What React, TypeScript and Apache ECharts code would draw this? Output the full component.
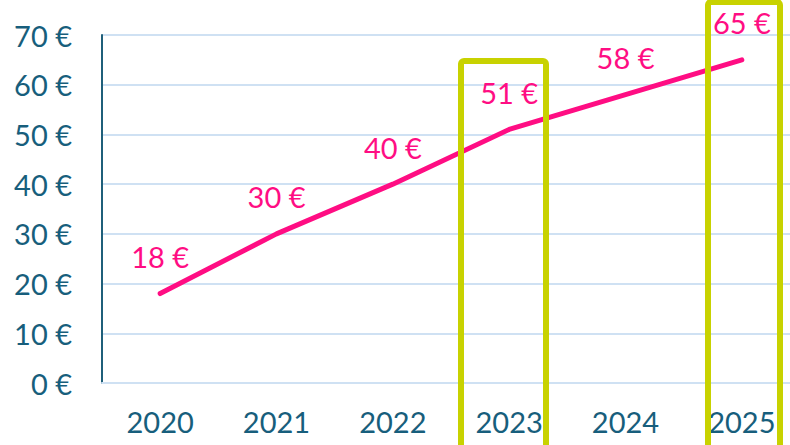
import React, { useEffect, useRef } from "react";
import * as echarts from "echarts";

const years = ["2020", "2021", "2022", "2023", "2024", "2025"];
const prices = [18, 30, 40, 51, 58, 65];
const yTicks = [0, 10, 20, 30, 40, 50, 60, 70];

export default function App() {
  const ref = useRef<HTMLDivElement>(null);
  useEffect(() => {
    document.body.style.margin = "0";
    if (!ref.current) return;
    const chart = echarts.init(ref.current, undefined, { renderer: "svg" });
    const font = "Lato, 'Open Sans', sans-serif";
    const teal = "#175e7c";
    const pink = "#ff0d83";
    const green = "#c8d200";
    chart.setOption({
      animation: false,
      backgroundColor: "#ffffff",
      grid: { left: 102, top: 35, bottom: 62, right: 0, containLabel: false },
      xAxis: {
        type: "category",
        data: years,
        boundaryGap: true,
        axisLine: { show: true, lineStyle: { color: "#cfe1f3", width: 2 } },
        axisTick: { show: false },
        axisLabel: { color: teal, fontSize: 29, fontFamily: font, margin: 24 },
        splitLine: { show: false },
      },
      yAxis: {
        type: "value",
        min: yTicks[0],
        max: yTicks[yTicks.length - 1],
        interval: 10,
        axisLine: { show: true, lineStyle: { color: "#1f5f7a", width: 2 } },
        axisTick: { show: false },
        axisLabel: {
          color: teal,
          fontSize: 29,
          fontFamily: font,
          margin: 30,
          formatter: (v: number) => `${v} €`,
        },
        splitLine: { show: true, lineStyle: { color: "#cfe1f3", width: 2 } },
      },
      series: [
        {
          type: "line",
          data: prices,
          symbol: "circle",
          symbolSize: 1,
          showSymbol: true,
          itemStyle: { color: "rgba(0,0,0,0)" },
          lineStyle: { color: pink, width: 5, cap: "round", join: "round" },
          label: {
            show: true,
            position: "top",
            distance: 22,
            color: pink,
            fontSize: 29,
            fontFamily: font,
            formatter: (p: any) => `${p.value} €`,
          },
        },
      ],
      graphic: [
        {
          type: "rect",
          shape: { x: 461, y: 61, width: 85, height: 420, r: 3 },
          style: { fill: "none", stroke: green, lineWidth: 6 },
          z: 100,
        },
        {
          type: "rect",
          shape: { x: 708, y: 2, width: 72, height: 480, r: 3 },
          style: { fill: "none", stroke: green, lineWidth: 6 },
          z: 100,
        },
      ],
    });
    return () => chart.dispose();
  }, []);
  return (
    <div style={{ width: 790, height: 445, overflow: "hidden", position: "relative" }}>
      <div ref={ref} style={{ width: 800, height: 445 }} />
    </div>
  );
}
